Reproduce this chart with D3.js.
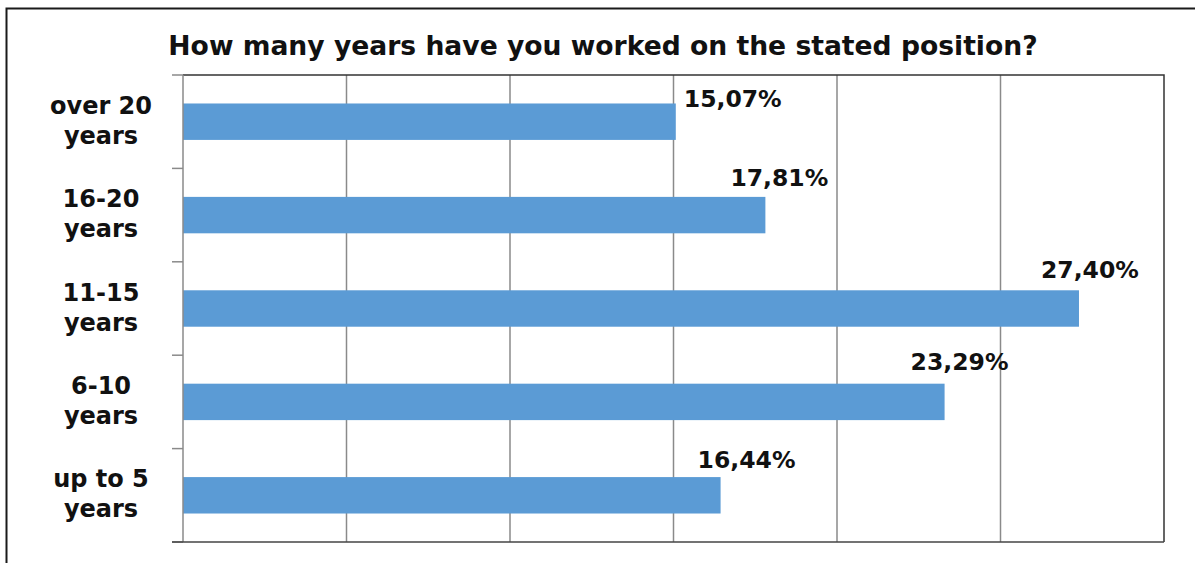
<!DOCTYPE html>
<html>
<head>
<meta charset="utf-8">
<script src="https://cdn.jsdelivr.net/npm/d3@7"></script>
<style>
  html, body { margin: 0; padding: 0; background: #fff; }
  svg { display: block; }
  text { font-family: "DejaVu Sans", sans-serif; font-weight: bold; fill: #111; }
</style>
</head>
<body>
<script>
// ---- data ----
const title = "How many years have you worked on the stated position?";
const categoryLines = [
  ["over 20", "years"],
  ["16-20", "years"],
  ["11-15", "years"],
  ["6-10", "years"],
  ["up to 5", "years"]
];
const categories = ["over 20 years", "16-20 years", "11-15 years", "6-10 years", "up to 5 years"];
const values = [15.07, 17.81, 27.40, 23.29, 16.44];
const valueLabels = ["15,07%", "17,81%", "27,40%", "23,29%", "16,44%"];
const xTicks = [0, 5, 10, 15, 20, 25, 30];

// ---- layout (label placement offsets, px) ----
const labelDx = [8, -35, -38, -34, -23];
const labelDy = [4, -11, -12, -14, -9];

const W = 1195, H = 563;
const plot = { left: 183, right: 1164, top: 75, bottom: 542 };

const svg = d3.select("body").append("svg").attr("width", W).attr("height", H);

// outer chart border
svg.append("rect")
  .attr("x", 6.5).attr("y", 8.5).attr("width", W + 10).attr("height", H + 10)
  .attr("fill", "#fff").attr("stroke", "#1a1a1a").attr("stroke-width", 2);

const x = d3.scaleLinear().domain([0, 30]).range([plot.left, plot.right]);
const y = d3.scaleBand().domain(categories).range([plot.top, plot.bottom])
  .paddingInner(0.61).paddingOuter(0.305);

// gridlines
svg.append("g").selectAll("line").data(xTicks.slice(1, -1)).join("line")
  .attr("x1", d => x(d)).attr("x2", d => x(d))
  .attr("y1", plot.top).attr("y2", plot.bottom)
  .attr("stroke", "#8a8a8a").attr("stroke-width", 1.5);

// plot frame (top / right)
svg.append("path")
  .attr("d", `M${plot.left},${plot.top}H${plot.right}V${plot.bottom}`)
  .attr("fill", "none").attr("stroke", "#333").attr("stroke-width", 1.5);

// bars
svg.append("g").selectAll("rect").data(values).join("rect")
  .attr("x", x(0))
  .attr("y", (d, i) => y(categories[i]))
  .attr("width", d => x(d) - x(0))
  .attr("height", y.bandwidth())
  .attr("fill", "#5b9bd5");

// y axis (band boundaries as ticks)
const bounds = d3.range(categories.length + 1).map(i => plot.top + i * (plot.bottom - plot.top) / categories.length);
const yAxis = svg.append("g");
yAxis.append("line")
  .attr("x1", plot.left).attr("x2", plot.left)
  .attr("y1", plot.top).attr("y2", plot.bottom)
  .attr("stroke", "#8a8a8a").attr("stroke-width", 1.5);
yAxis.selectAll("line.tk").data(bounds).join("line").attr("class", "tk")
  .attr("x1", plot.left - 11).attr("x2", plot.left)
  .attr("y1", d => d).attr("y2", d => d)
  .attr("stroke", "#8a8a8a").attr("stroke-width", 1.5);

// x axis baseline
svg.append("line")
  .attr("x1", plot.left - 11).attr("x2", plot.right)
  .attr("y1", plot.bottom).attr("y2", plot.bottom)
  .attr("stroke", "#444").attr("stroke-width", 1.5);

// category labels
const catG = svg.append("g");
categoryLines.forEach((lines, i) => {
  const cy = y(categories[i]) + y.bandwidth() / 2;
  const t = catG.append("text").attr("text-anchor", "middle").style("font-size", "24px");
  t.append("tspan").attr("x", 101).attr("y", cy - 8).text(lines[0]);
  t.append("tspan").attr("x", 101).attr("y", cy + 22).text(lines[1]);
});

// value labels
svg.append("g").selectAll("text").data(values).join("text")
  .attr("x", (d, i) => x(d) + labelDx[i])
  .attr("y", (d, i) => y(categories[i]) + labelDy[i])
  .style("font-size", "23.5px")
  .text((d, i) => valueLabels[i]);

// title
svg.append("text")
  .attr("x", 603).attr("y", 55)
  .attr("text-anchor", "middle")
  .style("font-size", "26.6px")
  .text(title);
</script>
</body>
</html>
